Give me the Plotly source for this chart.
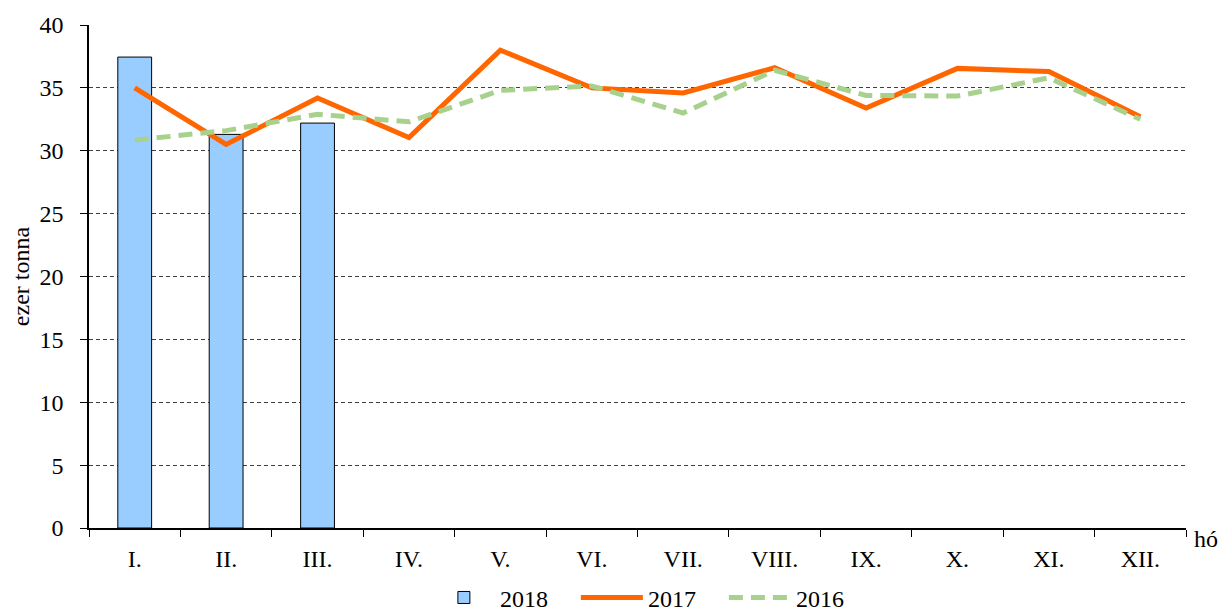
import plotly.graph_objects as go

months = ["I.", "II.", "III.", "IV.", "V.", "VI.", "VII.", "VIII.", "IX.", "X.", "XI.", "XII."]
v2018 = [37.45, 31.3, 32.2]
v2017 = [35.0, 30.5, 34.2, 31.05, 38.0, 35.0, 34.6, 36.6, 33.4, 36.55, 36.3, 32.7]
v2016 = [30.85, 31.6, 32.9, 32.3, 34.8, 35.15, 33.0, 36.4, 34.4, 34.35, 35.8, 32.5]

font = "Liberation Serif"
fs = 24

fig = go.Figure()
fig.add_trace(go.Bar(x=months[:len(v2018)], y=v2018, name="2018",
                     marker=dict(color="#99CCFF", line=dict(color="#000000", width=1)),
                     width=0.37))
fig.add_trace(go.Scatter(x=months, y=v2017, name="2017", mode="lines",
                         line=dict(color="#FF6600", width=5)))
fig.add_trace(go.Scatter(x=months, y=v2016, name="2016", mode="lines",
                         line=dict(color="#A9D18E", width=5, dash="14px,8px")))

# page body has an 8px margin, so the figure is sized/offset to compensate
fig.update_layout(
    width=1218, height=605,
    margin=dict(l=81, r=40, t=17, b=85),
    paper_bgcolor="white", plot_bgcolor="white",
    font=dict(family=font, size=fs, color="#000000"),
    legend=dict(orientation="h", x=0.527, xanchor="center", xref="container",
                y=0.025, yanchor="middle", yref="container",
                font=dict(size=fs, family=font), traceorder="normal",
                itemwidth=62, entrywidth=71, entrywidthmode="pixels",
                tracegroupgap=0, bgcolor="rgba(0,0,0,0)"),
    showlegend=True,
)
fig.update_xaxes(type="category", categoryorder="array", categoryarray=months,
                 range=[-0.5, 11.5], showline=True, linecolor="#000000", linewidth=1.5,
                 ticks="outside", tickson="boundaries", ticklen=7, tickcolor="#000000",
                 showgrid=False, tickfont=dict(size=fs, family=font),
                 ticklabelstandoff=8, automargin=False)
fig.update_yaxes(range=[0, 40], dtick=5, showline=True, linecolor="#000000", linewidth=1.5,
                 ticks="outside", ticklen=7, tickcolor="#000000",
                 showgrid=True, gridcolor="#404040", gridwidth=1, griddash="4px,3px",
                 zeroline=False, tickfont=dict(size=fs, family=font),
                 ticklabelstandoff=12, automargin=False,
                 title=dict(text="ezer tonna", font=dict(size=fs, family=font), standoff=8))
fig.add_annotation(text="hó", xref="paper", yref="paper", x=1.0, y=0, xanchor="left",
                   yanchor="top", xshift=6, yshift=4, showarrow=False,
                   font=dict(size=fs, family=font))

fig.write_html("out.html")
